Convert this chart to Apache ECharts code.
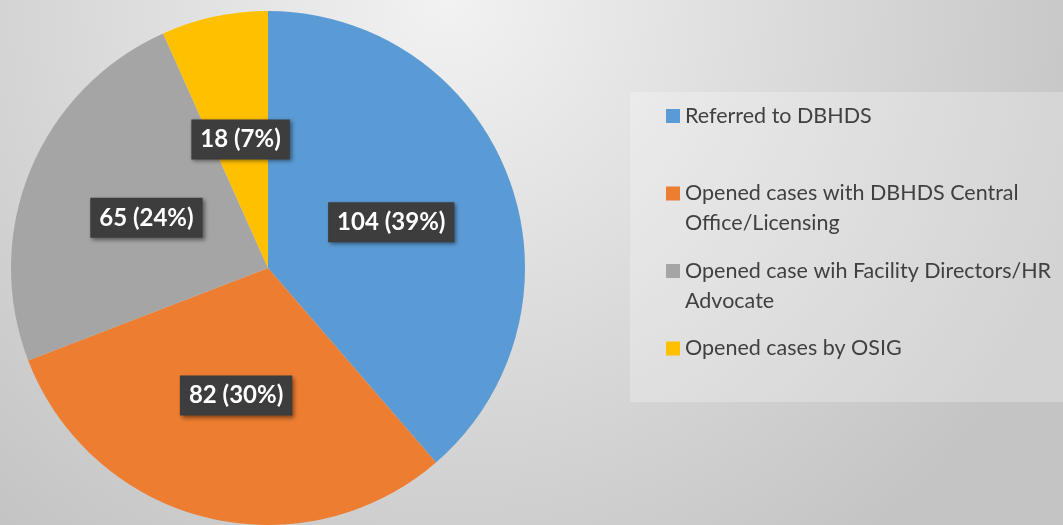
<!DOCTYPE html>
<html>
<head>
<meta charset="utf-8">
<script src="https://cdn.jsdelivr.net/npm/echarts@6/dist/echarts.min.js"></script>
<style>
  html, body { margin: 0; padding: 0; }
  #main { width: 1063px; height: 525px; }
</style>
</head>
<body>
<div id="main"></div>
<script>
const categories = [
  'Referred to DBHDS',
  'Opened cases with DBHDS Central Office/Licensing',
  'Opened case wih Facility Directors/HR Advocate',
  'Opened cases by OSIG'
];
const values = [104, 82, 65, 18];
const colors = ['#5b9bd5', '#ed7d31', '#a5a5a5', '#ffc000'];
// how the legend text wraps in the original
const legendLines = [
  ['Referred to DBHDS'],
  ['Opened cases with DBHDS Central', 'Office/Licensing'],
  ['Opened case wih Facility Directors/HR', 'Advocate'],
  ['Opened cases by OSIG']
];

const font = 'Lato';

let rich = {
  gap: {width: 5},
  ind: {width: 19},
  t: {fontSize: 21.5, lineHeight: 30, color: '#404040', fontFamily: font}
};
colors.forEach((c, i) => {
  rich['sq' + i] = {width: 14, height: 14, backgroundColor: c};
});

let chart = echarts.init(document.getElementById('main'));
chart.setOption({
  animation: false,
  backgroundColor: {
    type: 'radial', x: 0.42, y: 0.0, r: 1.3,
    colorStops: [
      {offset: 0, color: '#f2f2f2'},
      {offset: 1, color: '#c4c4c4'}
    ]
  },
  graphic: [{
    type: 'rect',
    shape: {x: 630, y: 92, width: 440, height: 310},
    style: {fill: 'rgba(255,255,255,0.25)'},
    silent: true
  }],
  legend: {
    orient: 'vertical',
    left: 661,
    top: 105,
    padding: 0,
    icon: 'none',
    itemWidth: 0,
    itemHeight: 0,
    itemGap: 25.5,
    data: categories,
    formatter: function (name) {
      let i = categories.indexOf(name);
      let lines = legendLines[i];
      let s = '{sq' + i + '|}{gap|}{t|' + lines[0] + '}';
      if (lines.length > 1) {
        s += '\n{ind|}{t|' + lines[1] + '}';
      } else {
        s += '\n{t| }';
      }
      return s;
    },
    textStyle: {rich: rich}
  },
  series: [{
    type: 'pie',
    center: [268, 268],
    radius: 257,
    startAngle: 90,
    clockwise: true,
    data: categories.map((c, i) => ({name: c, value: values[i], itemStyle: {color: colors[i]}})),
    label: {
      position: 'inside',
      formatter: p => p.value + ' (' + Math.round(p.percent) + '%)',
      color: '#ffffff',
      fontFamily: font,
      fontWeight: 'bold',
      fontSize: 24,
      backgroundColor: '#3d3d3d',
      padding: [8, 9, 8, 9],
      shadowColor: 'rgba(0,0,0,0.45)',
      shadowBlur: 4,
      shadowOffsetX: 2,
      shadowOffsetY: 2
    },
    labelLine: {show: false},
    emphasis: {disabled: true}
  }]
});
</script>
</body>
</html>
